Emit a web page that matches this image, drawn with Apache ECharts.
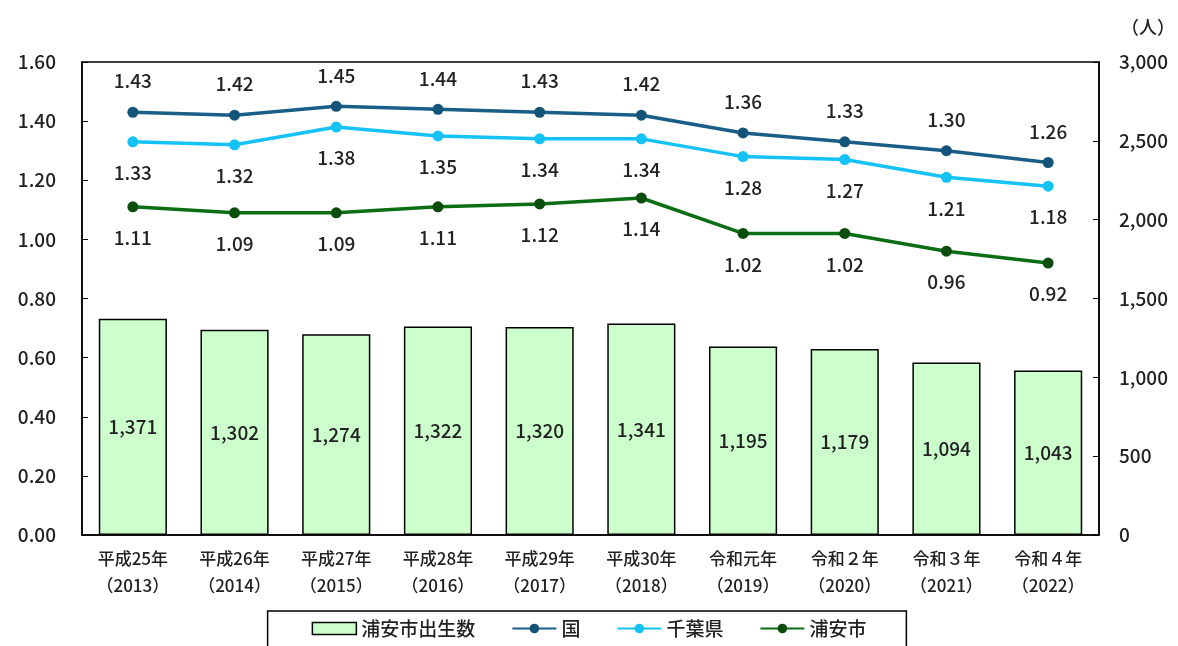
<!DOCTYPE html>
<html>
<head>
<meta charset="utf-8">
<script src="https://cdn.jsdelivr.net/npm/echarts@6/dist/echarts.min.js"></script>
<style>
  html, body { margin: 0; padding: 0; background: #fff; }
  #chart { width: 1178px; height: 646px; }
</style>
</head>
<body>
<div id="chart"></div>
<script>
const years = ['平成25年\n（2013）', '平成26年\n（2014）', '平成27年\n（2015）', '平成28年\n（2016）', '平成29年\n（2017）',
  '平成30年\n（2018）', '令和元年\n（2019）', '令和２年\n（2020）', '令和３年\n（2021）', '令和４年\n（2022）']
const births = [1371, 1302, 1274, 1322, 1320, 1341, 1195, 1179, 1094, 1043]
const rateKuni = [1.43, 1.42, 1.45, 1.44, 1.43, 1.42, 1.36, 1.33, 1.30, 1.26]
const rateChiba = [1.33, 1.32, 1.38, 1.35, 1.34, 1.34, 1.28, 1.27, 1.21, 1.18]
const rateUrayasu = [1.11, 1.09, 1.09, 1.11, 1.12, 1.14, 1.02, 1.02, 0.96, 0.92]

const font = '"Noto Sans CJK JP", "Noto Sans", sans-serif'
const chart = echarts.init(document.getElementById('chart'))

const lineSeries = (name, data, color, dark, pos) => ({
  name,
  type: 'line',
  yAxisIndex: 0,
  data,
  symbol: 'circle',
  symbolSize: 11,
  lineStyle: { width: 3.5, color },
  itemStyle: { color: dark },
  label: {
    show: true,
    position: pos,
    distance: 16,
    color: '#222',
    fontSize: 19,
    fontWeight: 500,
    fontFamily: font,
    formatter: p => p.value.toFixed(2)
  },
  z: 5
})

const option = {
  animation: false,
  textStyle: { fontFamily: font },
  grid: {
    left: 82,
    right: 74,
    top: 62,
    bottom: 111,
    show: true,
    borderColor: '#000',
    borderWidth: 1.5
  },
  legend: {
    bottom: -12,
    left: 'center',
    padding: [8, 40, 20, 44],
    borderColor: '#000',
    borderWidth: 1.5,
    itemGap: 36,
    itemWidth: 44,
    itemHeight: 12,
    textStyle: { fontSize: 19, fontWeight: 500, color: '#222', fontFamily: font },
    data: [
      { name: '浦安市出生数', icon: 'rect', itemStyle: { color: '#ccffcc', borderColor: '#000', borderWidth: 1.5 } },
      '国', '千葉県', '浦安市'
    ]
  },
  xAxis: {
    type: 'category',
    data: years,
    axisLine: { lineStyle: { color: '#000', width: 1.5 } },
    axisTick: { show: false },
    axisLabel: { color: '#222', fontSize: 17, fontWeight: 500, lineHeight: 27, margin: 10, fontFamily: font }
  },
  yAxis: [
    {
      type: 'value',
      min: 0,
      max: 1.6,
      interval: 0.2,
      axisLine: { show: true, lineStyle: { color: '#000', width: 1.5 } },
      axisTick: { show: true, inside: true, length: 6, lineStyle: { color: '#000' } },
      splitLine: { show: false },
      axisLabel: { color: '#222', fontSize: 19, fontWeight: 500, margin: 26, fontFamily: font, formatter: v => v.toFixed(2) }
    },
    {
      type: 'value',
      min: 0,
      max: 3000,
      interval: 500,
      name: '（人）',
      nameLocation: 'end',
      nameGap: 26,
      nameTextStyle: { color: '#222', fontSize: 18, fontWeight: 500, align: 'left', padding: [0, 0, 0, 22] },
      axisLine: { show: true, lineStyle: { color: '#000', width: 1.5 } },
      axisTick: { show: true, inside: true, length: 6, lineStyle: { color: '#000' } },
      splitLine: { show: false },
      axisLabel: { color: '#222', fontSize: 19, fontWeight: 500, margin: 20, fontFamily: font, formatter: v => v.toLocaleString('en-US') }
    }
  ],
  series: [
    {
      name: '浦安市出生数',
      type: 'bar',
      yAxisIndex: 1,
      data: births,
      barWidth: '67%',
      itemStyle: { color: '#ccffcc', borderColor: '#000', borderWidth: 1.5 },
      label: {
        show: true,
        position: 'inside',
        color: '#222',
        fontSize: 19,
        fontWeight: 500,
        fontFamily: font,
        formatter: p => p.value.toLocaleString('en-US')
      }
    },
    lineSeries('国', rateKuni, '#1a5e87', '#135478', 'top'),
    lineSeries('千葉県', rateChiba, '#14c2f5', '#14c2f5', 'bottom'),
    lineSeries('浦安市', rateUrayasu, '#0c6e14', '#0a4d0c', 'bottom')
  ]
}

chart.setOption(option)
</script>
</body>
</html>
